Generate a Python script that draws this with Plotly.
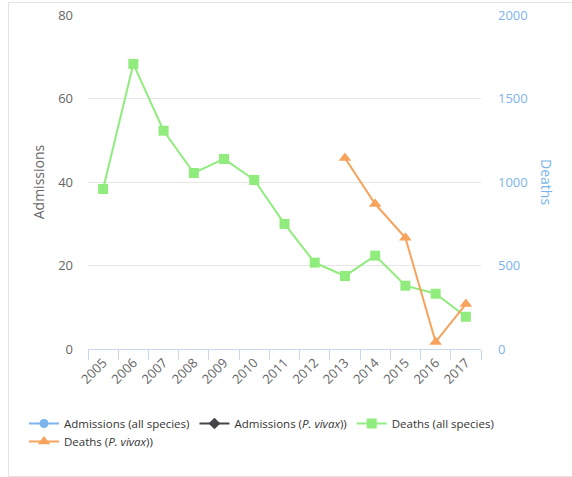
import plotly.graph_objects as go

years = ["2005", "2006", "2007", "2008", "2009", "2010", "2011",
         "2012", "2013", "2014", "2015", "2016", "2017"]
admissions_all = [None] * 13
admissions_vivax = [None] * 13
deaths_all = [958, 1707, 1307, 1054, 1138, 1012, 749, 517, 437, 559, 379, 331, 193]
deaths_vivax = [None, None, None, None, None, None, None, None, 1144, 868, 666, 42, 269]

FONT = "Open Sans"
W, H = 572, 477
L, R, T, B = 88, 91, 15, 128
pw = W - L - R
ph = H - T - B

def px_x(p):
    return (p - L) / pw

def px_y(p):
    return (H - B - p) / ph

fig = go.Figure()
fig.add_trace(go.Scatter(x=years, y=admissions_all, name="Admissions (all species)",
                         mode="lines+markers", line=dict(color="#7cb5ec", width=2),
                         marker=dict(symbol="circle", size=9, color="#7cb5ec"),
                         legend="legend"))
fig.add_trace(go.Scatter(x=years, y=admissions_vivax, name="Admissions (<i>P. vivax</i>))",
                         mode="lines+markers", line=dict(color="#434348", width=2),
                         marker=dict(symbol="diamond", size=9, color="#434348"),
                         legend="legend"))
fig.add_trace(go.Scatter(x=years, y=deaths_all, name="Deaths (all species)", yaxis="y2",
                         mode="lines+markers", line=dict(color="#90ed7d", width=2),
                         marker=dict(symbol="square", size=10, color="#90ed7d"),
                         legend="legend"))
fig.add_trace(go.Scatter(x=years, y=deaths_vivax, name="Deaths (<i>P. vivax</i>))", yaxis="y2",
                         mode="lines+markers", line=dict(color="#f7a35c", width=2),
                         marker=dict(symbol="triangle-up", size=11, color="#f7a35c"),
                         legend="legend2"))

legend_common = dict(orientation="h", xanchor="left", yanchor="top",
                     font=dict(size=11.5, color="#333333", family=FONT),
                     itemwidth=30, bgcolor="rgba(0,0,0,0)")

fig.update_layout(
    width=W, height=H,
    margin=dict(l=L, r=R, t=T, b=B, autoexpand=False),
    paper_bgcolor="white", plot_bgcolor="white",
    font=dict(family=FONT, color="#666666"),
    showlegend=True,
    xaxis=dict(type="category", range=[-0.5, 12.5], tickson="boundaries",
               ticks="outside", ticklen=10, tickcolor="#ccd6eb", tickwidth=1,
               showline=True, linecolor="#ccd6eb", linewidth=1, automargin=False,
               showgrid=False, zeroline=False, tickangle=-45,
               tickfont=dict(size=13, color="#666666", family=FONT)),
    yaxis=dict(range=[0, 80], dtick=20, showgrid=True, gridcolor="#e6e6e6", gridwidth=1,
               zeroline=False, showline=False, ticks="", ticklabelstandoff=14,
               automargin=False,
               tickfont=dict(size=13, color="#666666", family=FONT),
               title=dict(text="Admissions", standoff=10,
                          font=dict(size=14, color="#666666", family=FONT))),
    yaxis2=dict(range=[0, 2000], dtick=500, overlaying="y", side="right",
                showgrid=False, zeroline=False, showline=False, ticks="",
                ticklabelstandoff=16, automargin=False,
                tickfont=dict(size=13, color="#7cb5ec", family=FONT)),
    legend=dict(x=px_x(24), y=px_y(409), **legend_common),
    legend2=dict(x=px_x(24), y=px_y(427), **legend_common),
    annotations=[dict(text="Deaths", x=px_x(547), y=0.5, xref="paper", yref="paper",
                      textangle=90, showarrow=False, xanchor="center", yanchor="middle",
                      font=dict(size=14, color="#7cb5ec", family=FONT))],
    shapes=[dict(type="rect", xref="paper", yref="paper",
                 x0=px_x(8.5), x1=px_x(590), y0=px_y(476.5), y1=px_y(2.5),
                 line=dict(color="#e3e3e3", width=1), fillcolor="rgba(0,0,0,0)", layer="above")],
)

fig.write_html("out.html", config={"displayModeBar": False},
               post_script="document.body.style.margin='0';")
